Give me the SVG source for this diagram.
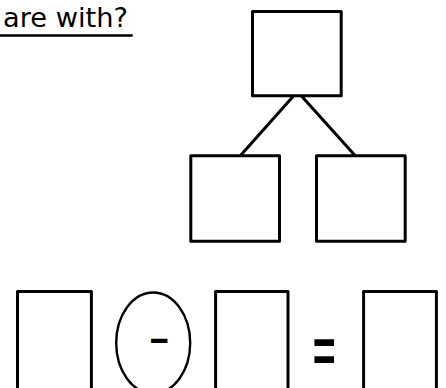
<svg xmlns="http://www.w3.org/2000/svg" width="446" height="388" viewBox="0 0 446 388">
  <style>
    .box { fill: #ffffff; stroke: #000000; stroke-width: 3; stroke-linejoin: round; }
    .conn { stroke: #000000; stroke-width: 3; stroke-linecap: butt; fill: none; }
    .title { font-family: "DejaVu Sans", sans-serif; font-size: 26px; fill: #000000; }
    .sym { font-family: "Liberation Sans", Arial, sans-serif; font-weight: bold; fill: #000000; }
  </style>
  <rect width="446" height="388" fill="#ffffff"/>

  <g id="title">
    <text class="title" x="3" y="26.7" textLength="125" lengthAdjust="spacingAndGlyphs">are with?</text>
    <line x1="0" y1="35.5" x2="132.7" y2="35.5" stroke="#000000" stroke-width="2.4"/>
  </g>

  <g id="connectors">
    <line class="conn" x1="293.5" y1="96" x2="240.5" y2="155.5"/>
    <line class="conn" x1="301.5" y1="96" x2="355" y2="155.5"/>
  </g>

  <g id="node-top">
    <rect class="box" x="252.5" y="11.5" width="88.7" height="84.3"/>
  </g>
  <g id="node-left">
    <rect class="box" x="190.8" y="155.8" width="88.7" height="85.4"/>
  </g>
  <g id="node-right">
    <rect class="box" x="316.5" y="155.8" width="88.7" height="85.4"/>
  </g>

  <g id="eq-box-1">
    <rect class="box" x="17.5" y="291.5" width="73.9" height="110"/>
  </g>
  <g id="eq-operator">
    <ellipse cx="153.2" cy="343" rx="37" ry="50.5" fill="#ffffff" stroke="#000000" stroke-width="2.4"/>
    <text class="sym" x="0" y="0" font-size="64.4" transform="translate(148.4 350.4) scale(1 0.545)">-</text>
  </g>
  <g id="eq-box-2">
    <rect class="box" x="215.6" y="291.5" width="72.4" height="110"/>
  </g>
  <g id="eq-equals">
    <text class="sym" x="0" y="0" font-size="39.2" transform="translate(312.7 371.7) scale(1 1.59)">=</text>
  </g>
  <g id="eq-box-3">
    <rect class="box" x="363.6" y="291.5" width="72.8" height="110"/>
  </g>
</svg>
